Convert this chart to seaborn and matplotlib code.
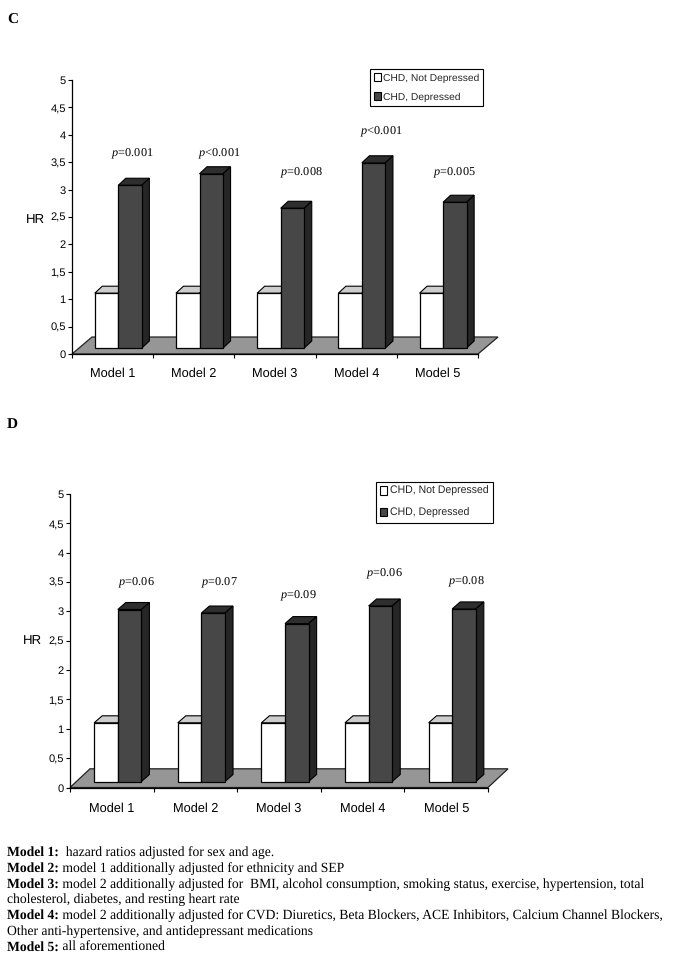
import matplotlib
matplotlib.use("Agg")
import matplotlib.pyplot as plt
import pandas as pd
import seaborn as sns
from matplotlib.patches import Polygon, Patch

sns.set_theme(style="white")
plt.rcParams['font.family'] = ['Liberation Sans', 'DejaVu Sans']
plt.rcParams['mathtext.fontset'] = 'custom'
plt.rcParams['mathtext.it'] = 'Liberation Serif:italic'
plt.rcParams['mathtext.rm'] = 'Liberation Serif'
plt.rcParams['text.hinting'] = 'no_hinting'

W, H = 674, 959
models = ["Model 1", "Model 2", "Model 3", "Model 4", "Model 5"]
series = ["CHD, Not Depressed", "CHD, Depressed"]
not_depressed = [1, 1, 1, 1, 1]
depressed_c = [2.97, 3.18, 2.55, 3.38, 2.66]
depressed_d = [2.93, 2.87, 2.69, 2.99, 2.94]
p_c = ["=0.001", "<0.001", "=0.008", "<0.001", "=0.005"]
p_d = ["=0.06", "=0.07", "=0.09", "=0.06", "=0.08"]
p_height_c = [3.66, 3.66, 3.30, 4.05, 3.30]
p_height_d = [3.48, 3.48, 3.26, 3.65, 3.50]
p_shift_c = [0.246, 0.32, 0.32, 0.314, 0.204]
p_shift_d = [0.30, 0.282, 0.228, 0.258, 0.246]
yticks = [0, 0.5, 1, 1.5, 2, 2.5, 3, 3.5, 4, 4.5, 5]
caption_bold = ["Model 1:", "Model 2:", "Model 3:", "", "Model 4:", "", "Model 5:"]
caption_text = [
    "  hazard ratios adjusted for sex and age.",
    " model 1 additionally adjusted for ethnicity and SEP",
    " model 2 additionally adjusted for  BMI, alcohol consumption, smoking status, exercise, hypertension, total",
    "cholesterol, diabetes, and resting heart rate",
    " model 2 additionally adjusted for CVD: Diuretics, Beta Blockers, ACE Inhibitors, Calcium Channel Blockers,",
    "Other anti-hypertensive, and antidepressant medications",
    " all aforementioned",
]

fig = plt.figure(figsize=(W / 100, H / 100), dpi=100, facecolor="white")


def panel(depressed, pvals, pheights, pshifts, left, right, top, bottom, floor_dx, floor_dy,
          bar_dx, bar_dy, depth_x, depth_y, barw, legend_box, xpad, lspace, hr_y, lfont, hpad):
    ax = fig.add_axes([left / W, 1 - bottom / H, (right - left) / W, (bottom - top) / H])
    ax.patch.set_alpha(0)
    ux = (right - left) / 5
    uy = (bottom - top) / 5
    df = pd.DataFrame({
        "model": models * 2,
        "group": [series[0]] * 5 + [series[1]] * 5,
        "hr": list(not_depressed) + list(depressed),
    })
    sns.barplot(data=df, x="model", y="hr", hue="group", hue_order=series,
                palette=["#ffffff", "#474747"], width=barw, gap=0, legend=False,
                bottom=bar_dy / uy, edgecolor="black", linewidth=0.9, saturation=1,
                ax=ax, zorder=3)
    ax.set_xlim(-0.5, 4.5)
    ax.set_ylim(0, 5)

    bars = list(ax.patches)

    fx, fy = floor_dx / ux, floor_dy / uy
    ax.add_patch(Polygon([(-0.5, 0), (4.5, 0), (4.5 + fx, fy), (-0.5 + fx, fy)],
                         closed=True, facecolor="#969696", edgecolor="#222222",
                         linewidth=0.9, clip_on=False, zorder=1))

    dx, dy = depth_x / ux, depth_y / uy
    shift = bar_dx / ux
    for i, p in enumerate(bars):
        p.set_x(p.get_x() + shift)
        p.set_clip_on(False)
        x0, x1 = p.get_x(), p.get_x() + p.get_width()
        y0, y1 = p.get_y(), p.get_y() + p.get_height()
        white = i < 5
        z = 2 if white else 4
        p.set_zorder(z + 0.5)
        ax.add_patch(Polygon([(x0, y1), (x1, y1), (x1 + dx, y1 + dy), (x0 + dx, y1 + dy)],
                             facecolor="#cdcdcd" if white else "#2e2e2e", edgecolor="black",
                             linewidth=0.8, clip_on=False, zorder=z))
        ax.add_patch(Polygon([(x1, y0), (x1 + dx, y0 + dy), (x1 + dx, y1 + dy), (x1, y1)],
                             facecolor="#a0a0a0" if white else "#262626", edgecolor="black",
                             linewidth=0.8, clip_on=False, zorder=z))

    for spine in ["top", "right"]:
        ax.spines[spine].set_visible(False)
    for spine in ["left", "bottom"]:
        ax.spines[spine].set_color("black")
        ax.spines[spine].set_linewidth(0.9)
        ax.spines[spine].set_zorder(6)
    ax.set_yticks(yticks)
    ax.set_yticklabels([f"{v:g}".replace(".", ",") for v in yticks], fontsize=8, color="black")
    ax.tick_params(axis="y", left=True, length=3, width=0.8, pad=1.5, color="black")
    ax.set_xticks(range(5))
    ax.set_xticklabels(models, fontsize=9.2, color="black")
    ax.tick_params(axis="x", which="major", bottom=False, pad=xpad)
    ax.set_xticks([i - 0.5 for i in range(6)], minor=True)
    ax.tick_params(axis="x", which="minor", bottom=True, length=3, width=0.8, color="black")
    ax.set_xlabel("")
    ax.set_ylabel("HR", fontsize=9.5, rotation=0, color="black", va="center")
    ax.yaxis.set_label_coords(-0.09, hr_y)

    for i, (txt, h, s) in enumerate(zip(pvals, pheights, pshifts)):
        ax.text(i + s, h, r"$\mathit{p}$" + txt, ha="center", va="center",
                fontsize=8.8, family="Liberation Serif", color="black", zorder=7)

    handles = [Patch(facecolor="#ffffff", edgecolor="black", linewidth=0.8),
               Patch(facecolor="#474747", edgecolor="black", linewidth=0.8)]
    lx0, ly0 = legend_box
    leg = ax.legend(handles, series, loc="upper left",
                    bbox_to_anchor=((lx0 - left) / (right - left), (bottom - ly0) / (bottom - top)),
                    fontsize=lfont, frameon=True, fancybox=False, edgecolor="black", framealpha=1,
                    handlelength=0.65, handleheight=0.8, handletextpad=hpad, borderpad=0.4,
                    labelspacing=lspace, borderaxespad=0)
    leg.get_frame().set_linewidth(0.8)
    return ax


panel(depressed_c, p_c, p_height_c, p_shift_c, 72, 478, 80, 354, 20, 17, 5.7, 6, 7.5, 7, 0.58,
      (370, 69), 3.5, 0.95, 0.49, 7.4, 0.2)
panel(depressed_d, p_d, p_height_d, p_shift_d, 70, 488, 494, 787.5, 20, 18.7, 6, 6, 8, 7, 0.565,
      (376, 482), 4.5, 1.1, 0.5, 7.6, 0.3)

fig.text(7 / W, 1 - 20 / H, "C", fontsize=11, fontweight="bold", family="Liberation Serif",
         va="center", color="black")
fig.text(7 / W, 1 - 424 / H, "D", fontsize=11, fontweight="bold", family="Liberation Serif",
         va="center", color="black")

line_y = [851, 867, 883, 898, 914, 930, 946]
fig.canvas.draw()
renderer = fig.canvas.get_renderer()
for y, bold, rest in zip(line_y, caption_bold, caption_text):
    x = 7.0
    if bold:
        t = fig.text(x / W, 1 - y / H, bold, fontsize=9.82, fontweight="bold",
                     family="Liberation Serif", va="center_baseline", color="black")
        x = t.get_window_extent(renderer).x1
    fig.text(x / W, 1 - y / H, rest, fontsize=9.82, family="Liberation Serif",
             va="center_baseline", color="black")

fig.savefig("out.png", dpi=100, facecolor="white")
